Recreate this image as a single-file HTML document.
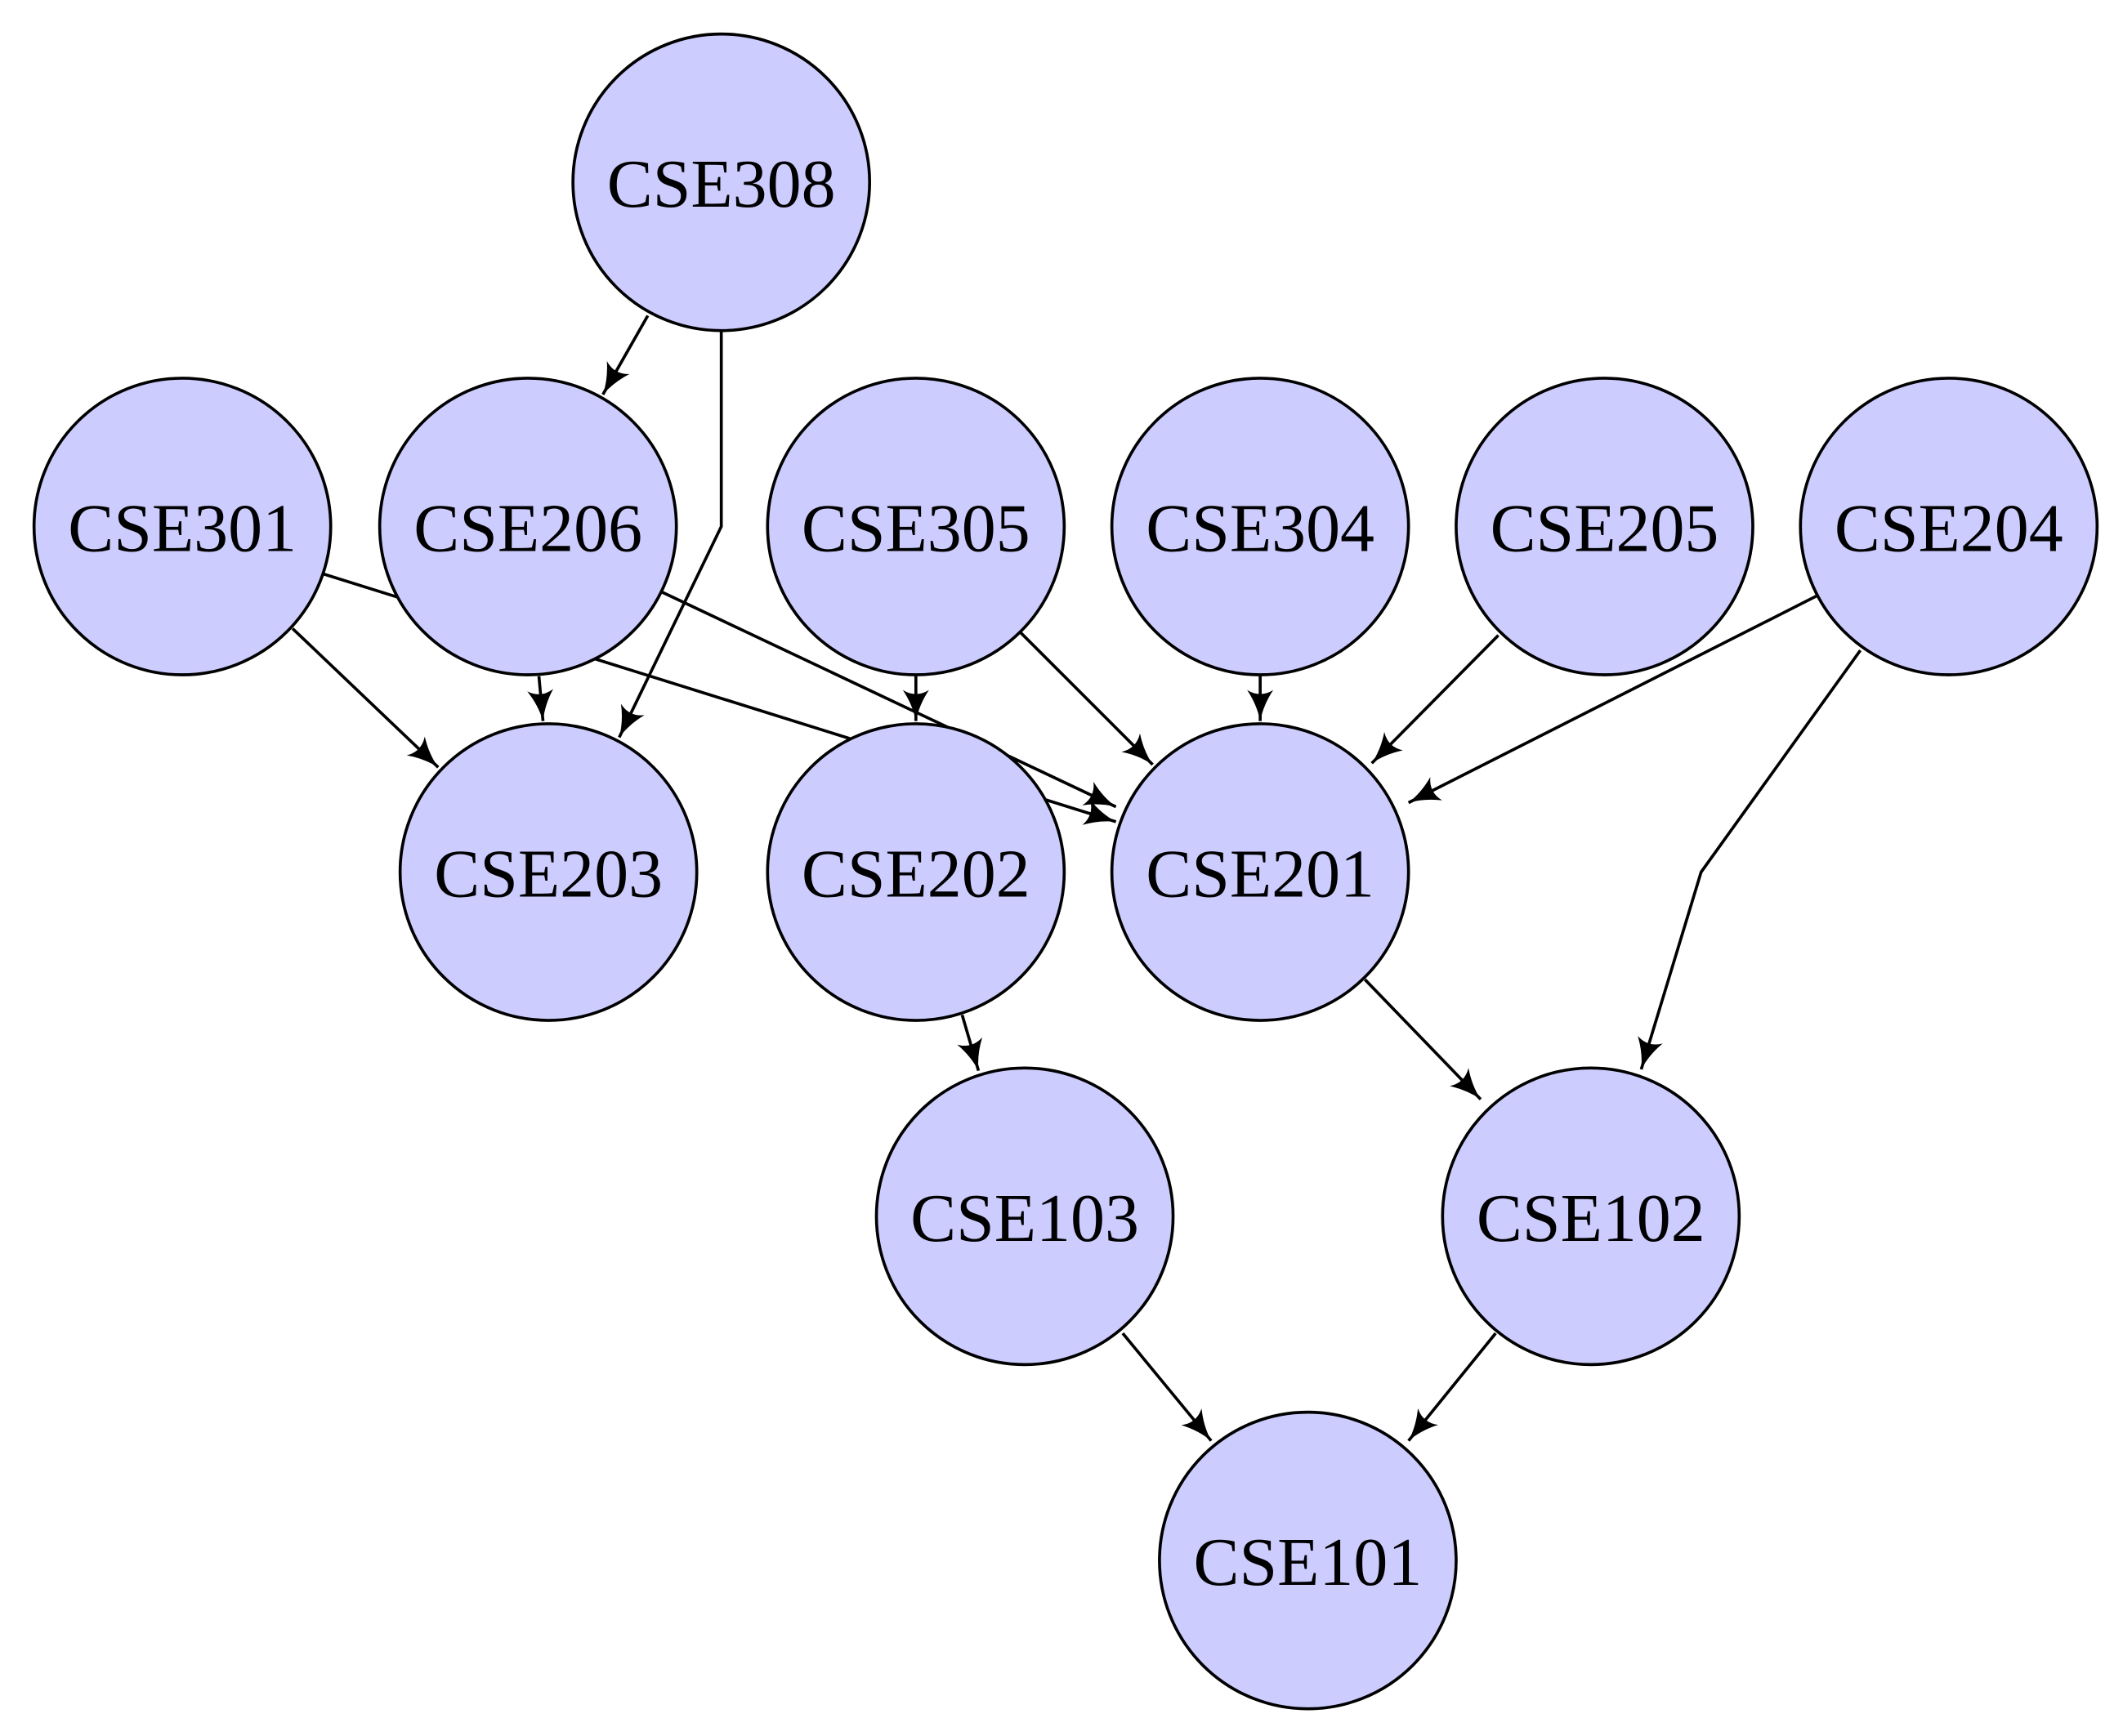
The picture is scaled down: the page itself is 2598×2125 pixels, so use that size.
<!DOCTYPE html>
<html><head><meta charset="utf-8"><style>
html,body{margin:0;padding:0;background:#fff;}
svg{display:block;}
</style></head><body>
<svg width="2598" height="2125" viewBox="0 0 1560 1276" xmlns="http://www.w3.org/2000/svg">
<defs>
<marker id="a" viewBox="0 0 20 20" refX="19" refY="10" markerWidth="24" markerHeight="24" markerUnits="userSpaceOnUse" orient="auto">
<path d="M0,2 Q9,8 19,10 Q9,12 0,18 Q5,10 0,2 Z" fill="#000"/>
</marker>
</defs>
<g fill="none" stroke="#000" stroke-width="2.2" marker-end="url(#a)">
<path d="M476,232 L443,290"/>
<path d="M530,243 L530,387 L455,542"/>
<path d="M215,462 L322,564"/>
<path d="M238,422 L820,604"/>
<path d="M396,497 L399,530"/>
<path d="M486,435 L820,593"/>
<path d="M673,497 L673,530"/>
<path d="M750,465 L847,562"/>
<path d="M926,497 L926,530"/>
<path d="M1101,467 L1008,561"/>
<path d="M1335,438 L1035,590"/>
<path d="M1367,478 L1250,641 L1206,786"/>
<path d="M707,746 L719,787"/>
<path d="M1003,720 L1088,808"/>
<path d="M825,980 L890,1059"/>
<path d="M1099,980 L1035,1059"/>
</g>
<g fill="#ccccff" stroke="#000" stroke-width="2.2">
<circle cx="530" cy="134" r="109"/>
<circle cx="134" cy="387" r="109"/>
<circle cx="388" cy="387" r="109"/>
<circle cx="673" cy="387" r="109"/>
<circle cx="926" cy="387" r="109"/>
<circle cx="1179" cy="387" r="109"/>
<circle cx="1432" cy="387" r="109"/>
<circle cx="403" cy="641" r="109"/>
<circle cx="673" cy="641" r="109"/>
<circle cx="926" cy="641" r="109"/>
<circle cx="753" cy="894" r="109"/>
<circle cx="1169" cy="894" r="109"/>
<circle cx="961" cy="1147" r="109"/>
</g>
<g font-family="'Liberation Serif', serif" font-size="50" fill="#000" text-anchor="middle">
<text x="530" y="152" textLength="168" lengthAdjust="spacingAndGlyphs">CSE308</text>
<text x="134" y="405" textLength="168" lengthAdjust="spacingAndGlyphs">CSE301</text>
<text x="388" y="405" textLength="168" lengthAdjust="spacingAndGlyphs">CSE206</text>
<text x="673" y="405" textLength="168" lengthAdjust="spacingAndGlyphs">CSE305</text>
<text x="926" y="405" textLength="168" lengthAdjust="spacingAndGlyphs">CSE304</text>
<text x="1179" y="405" textLength="168" lengthAdjust="spacingAndGlyphs">CSE205</text>
<text x="1432" y="405" textLength="168" lengthAdjust="spacingAndGlyphs">CSE204</text>
<text x="403" y="659" textLength="168" lengthAdjust="spacingAndGlyphs">CSE203</text>
<text x="673" y="659" textLength="168" lengthAdjust="spacingAndGlyphs">CSE202</text>
<text x="926" y="659" textLength="168" lengthAdjust="spacingAndGlyphs">CSE201</text>
<text x="753" y="912" textLength="168" lengthAdjust="spacingAndGlyphs">CSE103</text>
<text x="1169" y="912" textLength="168" lengthAdjust="spacingAndGlyphs">CSE102</text>
<text x="961" y="1165" textLength="168" lengthAdjust="spacingAndGlyphs">CSE101</text>
</g>
</svg>
</body></html>
